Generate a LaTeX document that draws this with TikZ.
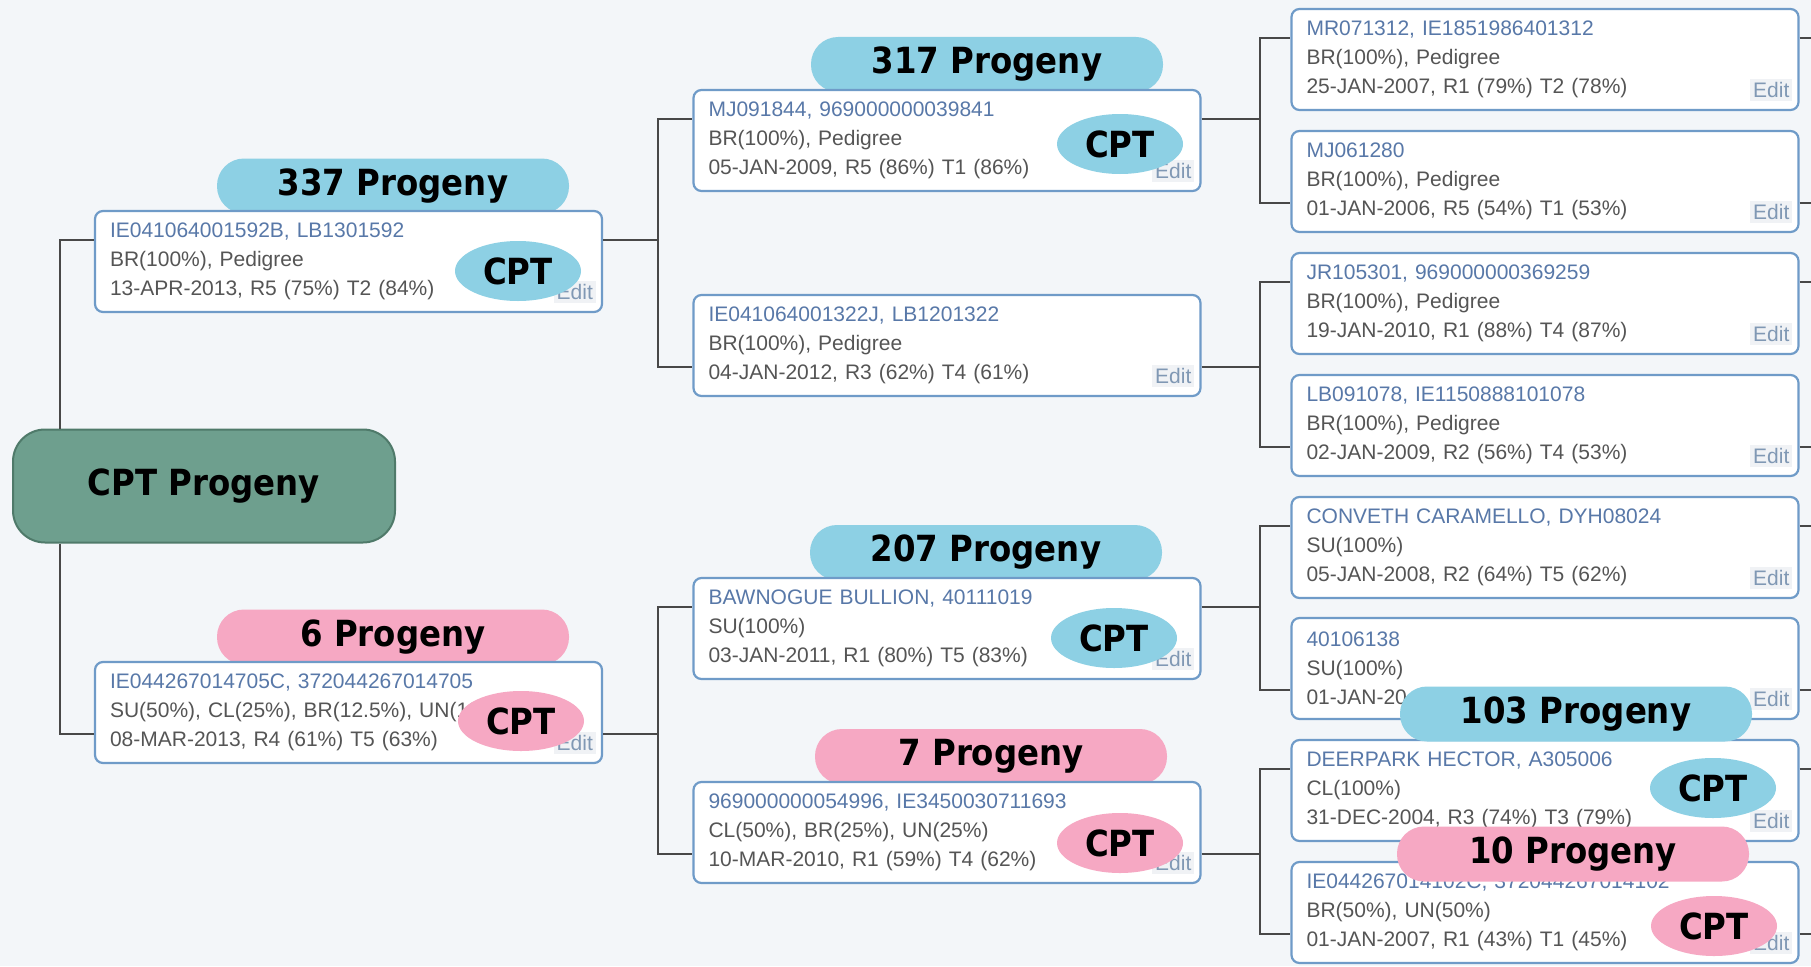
\documentclass[tikz,border=0pt]{standalone}
\usepackage{fontspec}
\setmainfont{Liberation Sans}
\newfontfamily\lblfont[FakeStretch=0.9]{DejaVu Sans}
\usepackage{xcolor}
\usetikzlibrary{shapes.geometric}

\definecolor{bgcol}{HTML}{F3F6F9}
\definecolor{boxline}{HTML}{6F9BC8}
\definecolor{idblue}{HTML}{5878A8}
\definecolor{txtgray}{HTML}{555555}
\definecolor{editcol}{HTML}{8098B4}
\definecolor{editbg}{HTML}{F0F2F5}
\definecolor{linkcol}{HTML}{484848}
\definecolor{rootfill}{HTML}{6E9F8E}
\definecolor{rootline}{HTML}{4F7A6A}
\definecolor{cptblue}{HTML}{8DD0E4}
\definecolor{cptpink}{HTML}{F6A8C3}

\tikzset{
  link/.style={draw=linkcol, line width=2pt},
  edit/.style={fill=editbg, text=editcol, inner sep=3pt, font=\fontsize{21}{24}\selectfont},
  pbox/.style={draw=boxline, line width=2.2pt, fill=white, rounded corners=8pt,
    minimum width=507pt, minimum height=101pt, text width=477pt, align=left,
    inner xsep=15pt, inner ysep=0pt, text=txtgray, font=\fontsize{21}{29}\selectfont,
    append after command={node[edit, anchor=south east] at ([xshift=-7pt,yshift=10pt]\tikzlastnode.south east) {Edit}}},
  lbl/.style={rounded corners=27pt, minimum width=352pt, minimum height=55pt,
    inner sep=0pt, font=\lblfont\bfseries\fontsize{36}{40}\selectfont},
  bluelbl/.style={lbl, fill=cptblue},
  pinklbl/.style={lbl, fill=cptpink},
  cpt/.style={ellipse, minimum width=126pt, minimum height=60pt, inner sep=0pt,
    font=\lblfont\bfseries\fontsize{36}{40}\selectfont},
  root/.style={draw=rootline, fill=rootfill, line width=2pt, rounded corners=32pt,
    minimum width=382pt, minimum height=113pt, font=\lblfont\bfseries\fontsize{36}{40}\selectfont}
}

\begin{document}
\begin{tikzpicture}[x=1pt, y=-1pt]
  \fill[bgcol] (0,0) rectangle (1811,966);
  \useasboundingbox (0,0) rectangle (1811,966);

  % progeny counts behind the boxes
  \node[bluelbl] (s-n) at (393,186) {337 Progeny};
  \node[pinklbl] (d-n) at (393,637) {6 Progeny};
  \node[bluelbl] (ss-n) at (987,64.5) {317 Progeny};
  \node[bluelbl] (ds-n) at (986,552.5) {207 Progeny};
  \node[pinklbl] (dd-n) at (991,756.5) {7 Progeny};

  \node[root] (cpt) at (204,486) {CPT Progeny};

  \node[pbox] (s) at (348.5,261.5) {\textcolor{idblue}{IE041064001592B, LB1301592}\\BR(100\%), Pedigree\\13-APR-2013, R5 (75\%) T2 (84\%)};
  \node[pbox] (d) at (348.5,712.5) {\textcolor{idblue}{IE044267014705C, 372044267014705}\\SU(50\%), CL(25\%), BR(12.5\%), UN(12\\08-MAR-2013, R4 (61\%) T5 (63\%)};

  \node[pbox] (ss) at (947,140.5) {\textcolor{idblue}{MJ091844, 969000000039841}\\BR(100\%), Pedigree\\05-JAN-2009, R5 (86\%) T1 (86\%)};
  \node[pbox] (sd) at (947,345.5) {\textcolor{idblue}{IE041064001322J, LB1201322}\\BR(100\%), Pedigree\\04-JAN-2012, R3 (62\%) T4 (61\%)};
  \node[pbox] (ds) at (947,628.5) {\textcolor{idblue}{BAWNOGUE BULLION, 40111019}\\SU(100\%)\\03-JAN-2011, R1 (80\%) T5 (83\%)};
  \node[pbox] (dd) at (947,832.5) {\textcolor{idblue}{969000000054996, IE3450030711693}\\CL(50\%), BR(25\%), UN(25\%)\\10-MAR-2010, R1 (59\%) T4 (62\%)};

  \node[pbox] (sss) at (1545,59.5) {\textcolor{idblue}{MR071312, IE1851986401312}\\BR(100\%), Pedigree\\25-JAN-2007, R1 (79\%) T2 (78\%)};
  \node[pbox] (ssd) at (1545,181.5) {\textcolor{idblue}{MJ061280}\\BR(100\%), Pedigree\\01-JAN-2006, R5 (54\%) T1 (53\%)};
  \node[pbox] (sds) at (1545,303.5) {\textcolor{idblue}{JR105301, 969000000369259}\\BR(100\%), Pedigree\\19-JAN-2010, R1 (88\%) T4 (87\%)};
  \node[pbox] (sdd) at (1545,425.5) {\textcolor{idblue}{LB091078, IE1150888101078}\\BR(100\%), Pedigree\\02-JAN-2009, R2 (56\%) T4 (53\%)};
  \node[pbox] (dss) at (1545,547.5) {\textcolor{idblue}{CONVETH CARAMELLO, DYH08024}\\SU(100\%)\\05-JAN-2008, R2 (64\%) T5 (62\%)};
  \node[pbox] (dsd) at (1545,668.5) {\textcolor{idblue}{40106138}\\SU(100\%)\\01-JAN-20};
  \node[pbox] (dds) at (1545,790.5) {\textcolor{idblue}{DEERPARK HECTOR, A305006}\\CL(100\%)\\31-DEC-2004, R3 (74\%) T3 (79\%)};
  \node[pbox] (ddd) at (1545,912.5) {\textcolor{idblue}{IE044267014102C, 372044267014102}\\BR(50\%), UN(50\%)\\01-JAN-2007, R1 (43\%) T1 (45\%)};

  % tree lines
  \draw[link] ([xshift=-144pt]cpt.north) |- ([yshift=-30pt]s.north west);
  \draw[link] ([xshift=-144pt]cpt.south) |- ([yshift=30pt]d.south west);

  \draw[link] ([yshift=-30pt]s.north east) -- ++(55,0) coordinate (js);
  \draw[link] (js) |- ([yshift=-30pt]ss.north west);
  \draw[link] (js) |- ([yshift=30pt]sd.south west);
  \draw[link] ([yshift=30pt]d.south east) -- ++(55,0) coordinate (jd);
  \draw[link] (jd) |- ([yshift=-30pt]ds.north west);
  \draw[link] (jd) |- ([yshift=30pt]dd.south west);

  \draw[link] ([yshift=-30pt]ss.north east) -- ++(58,0) coordinate (jss);
  \draw[link] (jss) |- ([yshift=-30pt]sss.north west);
  \draw[link] (jss) |- ([yshift=30pt]ssd.south west);
  \draw[link] ([yshift=30pt]sd.south east) -- ++(58,0) coordinate (jsd);
  \draw[link] (jsd) |- ([yshift=-30pt]sds.north west);
  \draw[link] (jsd) |- ([yshift=30pt]sdd.south west);
  \draw[link] ([yshift=-30pt]ds.north east) -- ++(58,0) coordinate (jds);
  \draw[link] (jds) |- ([yshift=-30pt]dss.north west);
  \draw[link] (jds) |- ([yshift=30pt]dsd.south west);
  \draw[link] ([yshift=30pt]dd.south east) -- ++(58,0) coordinate (jdd);
  \draw[link] (jdd) |- ([yshift=-30pt]dds.north west);
  \draw[link] (jdd) |- ([yshift=30pt]ddd.south west);

  \foreach \n in {sss,sds,dss,dds}
    \draw[link] ([yshift=-30pt]\n.north east) -- ++(20,0);
  \foreach \n in {ssd,sdd,dsd,ddd}
    \draw[link] ([yshift=30pt]\n.south east) -- ++(20,0);

  % counts over the last column
  \node[bluelbl] (dds-n) at (1576,714) {103 Progeny};
  \node[pinklbl] (ddd-n) at (1573,854) {10 Progeny};

  % CPT tags
  \node[cpt, fill=cptblue] (s-c) at (518,271) {CPT};
  \node[cpt, fill=cptpink] (d-c) at (521,721) {CPT};
  \node[cpt, fill=cptblue] (ss-c) at (1120,144) {CPT};
  \node[cpt, fill=cptblue] (ds-c) at (1114,638) {CPT};
  \node[cpt, fill=cptpink] (dd-c) at (1120,843) {CPT};
  \node[cpt, fill=cptblue] (dds-c) at (1713,788) {CPT};
  \node[cpt, fill=cptpink] (ddd-c) at (1714,926) {CPT};
\end{tikzpicture}
\end{document}
